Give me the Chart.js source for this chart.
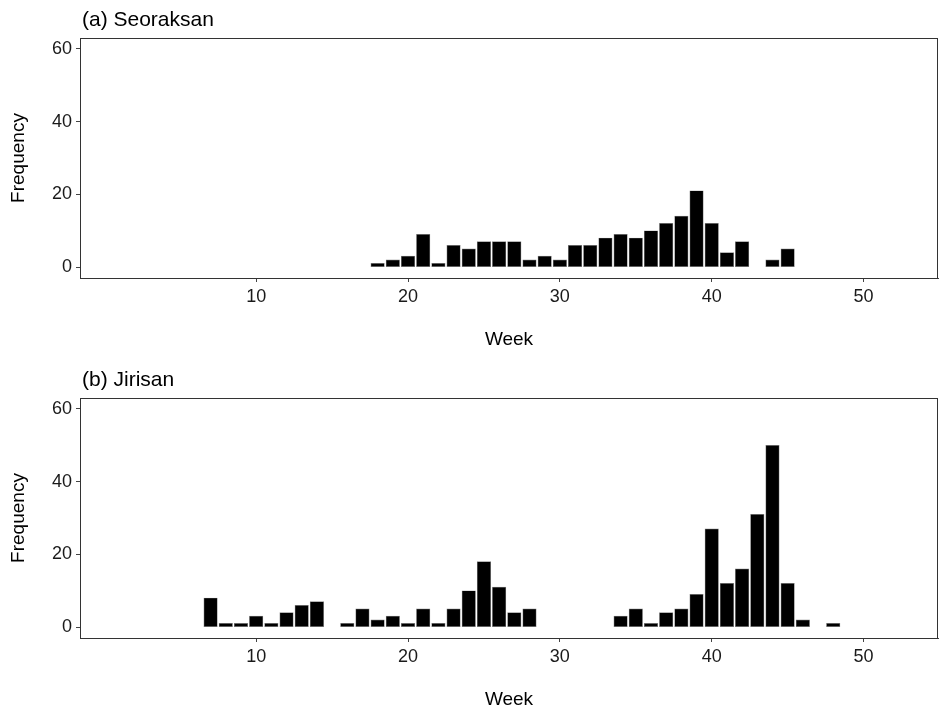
<!DOCTYPE html>
<html>
<head>
<meta charset="utf-8">
<script src="https://cdn.jsdelivr.net/npm/chart.js@4"></script>
<style>
  html, body { margin: 0; padding: 0; background: #fff; overflow: hidden; }
  .panel { position: absolute; left: 0; width: 941px; height: 360px; }
</style>
</head>
<body>
<div class="panel" style="top:0"><canvas id="chartA"></canvas></div>
<div class="panel" style="top:360px"><canvas id="chartB"></canvas></div>
<script>
// weeks 7..48, null = no bar
var weeks = [7, 8, 9, 10, 11, 12, 13, 14, 15, 16, 17, 18, 19, 20, 21, 22, 23, 24, 25, 26, 27,
             28, 29, 30, 31, 32, 33, 34, 35, 36, 37, 38, 39, 40, 41, 42, 43, 44, 45, 46, 47, 48];
var seoraksan = [null, null, null, null, null, null, null, null, null, null, null,
                 1, 2, 3, 9, 1, 6, 5, 7, 7, 7, 2, 3, 2, 6, 6, 8, 9, 8, 10, 12, 14, 21, 12, 4, 7,
                 null, 2, 5, null, null, null];
var jirisan = [8, 1, 1, 3, 1, 4, 6, 7, null, 1, 5, 2, 3, 1, 5, 1, 5, 10, 18, 11, 4, 5,
               null, null, null, null, null, 3, 5, 1, 4, 5, 9, 27, 12, 16, 31, 50, 12, 2, null, 1];
var xTicks = [10, 20, 30, 40, 50];
var yTicks = [0, 20, 40, 60];
var titles = ['(a) Seoraksan', '(b) Jirisan'];

var FONT = '"Liberation Sans", Arial, sans-serif';

// panel title + full box around the plot area
var panelPlugin = {
    id: 'panelBox',
    afterDraw: function(chart) {
        var ctx = chart.ctx, a = chart.chartArea;
        ctx.save();
        ctx.strokeStyle = '#333';
        ctx.lineWidth = 1;
        ctx.strokeRect(Math.round(a.left) + 0.5, Math.round(a.top) + 0.5,
                       Math.round(a.right - a.left) - 1, Math.round(a.bottom - a.top));
        ctx.fillStyle = '#000';
        ctx.font = '21px ' + FONT;
        ctx.textBaseline = 'alphabetic';
        ctx.fillText(chart.options.plugins.panelBox.text, a.left + 2, a.top - 12);
        ctx.restore();
    }
};

function makeChart(id, values, title) {
    var points = weeks.map(function(w, i) { return { x: w, y: values[i] }; });
    return new Chart(document.getElementById(id), {
        type: 'bar',
        data: {
            datasets: [{
                data: points,
                backgroundColor: '#000',
                borderColor: '#808080',
                borderWidth: 0.7,
                borderSkipped: false,
                barThickness: 13.5
            }]
        },
        options: {
            responsive: true,
            maintainAspectRatio: false,
            animation: false,
            layout: { padding: { top: 38, right: 3, left: 0, bottom: 0 } },
            plugins: {
                legend: { display: false },
                tooltip: { enabled: false },
                panelBox: { text: title }
            },
            scales: {
                x: {
                    type: 'linear',
                    min: -1.6,
                    max: 54.9,
                    offset: false,
                    afterBuildTicks: function(s) { s.ticks = xTicks.map(function(v) { return { value: v }; }); },
                    afterFit: function(s) { s.height = 82; },
                    grid: { offset: false, drawOnChartArea: false, drawTicks: true, tickLength: 4, color: '#444' },
                    border: { display: true, color: '#444' },
                    ticks: { color: '#1a1a1a', font: { family: FONT, size: 18 }, padding: 4, maxRotation: 0 },
                    title: { display: true, text: 'Week', color: '#000',
                             font: { family: FONT, size: 19 }, padding: { top: 0, bottom: 9 } }
                },
                y: {
                    min: -3,
                    max: 63,
                    afterBuildTicks: function(s) { s.ticks = yTicks.map(function(v) { return { value: v }; }); },
                    afterFit: function(s) { s.width = 80; },
                    grid: { drawOnChartArea: false, drawTicks: true, tickLength: 4, color: '#444' },
                    border: { display: true, color: '#444' },
                    ticks: { color: '#1a1a1a', font: { family: FONT, size: 18 }, padding: 4 },
                    title: { display: true, text: 'Frequency', color: '#000',
                             font: { family: FONT, size: 19 }, padding: { top: 7, bottom: 0 } }
                }
            }
        },
        plugins: [panelPlugin]
    });
}

makeChart('chartA', seoraksan, titles[0]);
makeChart('chartB', jirisan, titles[1]);
</script>
</body>
</html>
